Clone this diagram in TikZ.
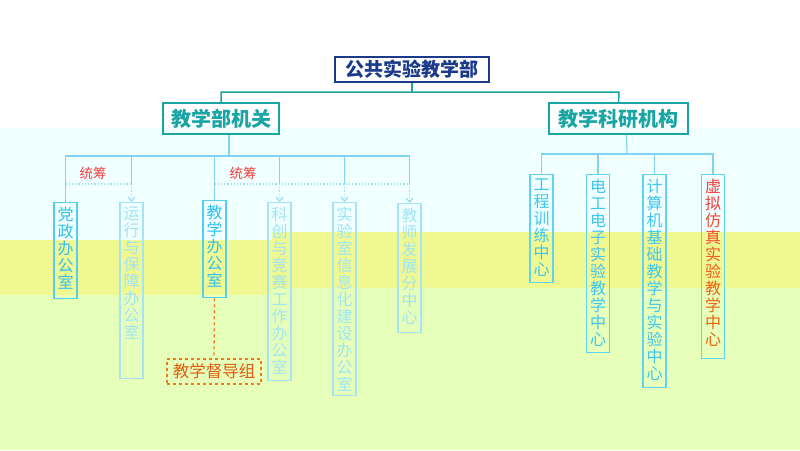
\documentclass[tikz,border=0pt]{standalone}
\usepackage{fontspec}
\setmainfont{Noto Sans CJK SC}
\usetikzlibrary{arrows.meta}
\definecolor{navy}{HTML}{1B3A8A}
\definecolor{tealc}{HTML}{1AA5A5}
\definecolor{busc}{HTML}{80D4F2}
\definecolor{dotc}{HTML}{9ADCF2}
\definecolor{strongtxt}{HTML}{2FC0F2}
\definecolor{strongbd}{HTML}{55CCF2}
\definecolor{paletxt}{HTML}{9FE4F5}
\definecolor{palebd}{HTML}{A5E4F5}
\definecolor{righttxt}{HTML}{3EC6F0}
\definecolor{rightbd}{HTML}{5ED4F2}
\definecolor{redc}{HTML}{F04040}
\definecolor{orangebd}{HTML}{F07818}
\definecolor{orangetxt}{HTML}{E25A10}
\definecolor{bgcyan}{HTML}{F0FFFF}
\definecolor{bgyellow}{HTML}{F0F892}
\definecolor{bggreen}{HTML}{E6FFBA}
\definecolor{xa}{HTML}{F03C3C}
\definecolor{xb}{HTML}{F04A2C}
\definecolor{xc}{HTML}{F05A1C}
\definecolor{xd}{HTML}{EC6414}
\tikzset{
  topbox/.style={draw=navy, line width=1.5pt, fill=white, text=navy,
    minimum width=154pt, minimum height=25pt, inner sep=0pt,
    font=\fontsize{19}{19}\selectfont\bfseries},
  lonebox/.style={draw=tealc, line width=1.5pt, text=tealc,
    minimum height=31pt, inner sep=0pt,
    font=\fontsize{20}{20}\selectfont\bfseries},
  tealline/.style={draw=tealc, line width=1.5pt},
  vbox/.style={line width=1.3pt, minimum width=23pt, inner sep=0pt, anchor=north},
  vtext/.style={anchor=north, align=center, inner xsep=0pt, inner ysep=5pt,
    font=\fontsize{16}{17}\selectfont},
  busline/.style={draw=busc, line width=1.2pt},
  dotline/.style={draw=dotc, line width=1.2pt, dotted},
  dotarrow/.style={draw=dotc, line width=1.2pt, dotted, -{Straight Barb[length=4pt,width=7pt]}},
  tclabel/.style={text=redc, font=\fontsize{13.5}{14}\selectfont},
  ddbox/.style={draw=orangebd, line width=1.3pt, dashed, text=orangetxt,
    minimum width=94pt, minimum height=25pt, inner sep=0pt,
    font=\fontsize{16.5}{17}\selectfont},
  ddline/.style={draw=orangebd, line width=1.3pt, dashed}
}
\begin{document}
\begin{tikzpicture}[x=1pt,y=-1pt]
\useasboundingbox (0,0) rectangle (800,450);
% background bands
\fill[white] (0,0) rectangle (800,128);
\fill[bgcyan] (0,128) rectangle (800,240);
\fill[bggreen] (0,240) rectangle (800,450);
\fill[bgyellow] (0,240) rectangle (272,295);
\fill[bgyellow] (272,232) rectangle (800,288);

% top level
\node[topbox] (top) at (412,69.5) {公共实验教学部};
\node[lonebox, minimum width=116pt] (ja) at (221,118.5) {教学部机关};
\node[lonebox, minimum width=139pt] (jk) at (618.5,118.5) {教学科研机构};
\coordinate (busA) at (221,92);
\coordinate (busB) at (619,92);
\draw[tealline] (top.south) -- (top.south |- busA);
\draw[tealline] (ja.north) -- (busA) -- (busB) -- (jk.north);

% left group boxes
\node[vbox, draw=strongbd, minimum height=96pt] (dz) at (65.5,202) {};
\node[vtext, text=strongtxt] (dzt) at (dz.north) {党\\政\\办\\公\\室};
\node[vbox, draw=palebd, minimum height=176pt] (yx) at (131.5,202) {};
\node[vtext, text=paletxt] (yxt) at (yx.north) {运\\行\\与\\保\\障\\办\\公\\室};
\node[vbox, draw=strongbd, minimum height=97pt] (jx) at (214.5,200) {};
\node[vtext, text=strongtxt] (jxt) at (jx.north) {教\\学\\办\\公\\室};
\node[vbox, draw=palebd, minimum height=178pt] (kc) at (279.5,202) {};
\node[vtext, text=paletxt] (kct) at (kc.north) {科\\创\\与\\竞\\赛\\工\\作\\办\\公\\室};
\node[vbox, draw=palebd, minimum height=193pt] (sy) at (344.5,202) {};
\node[vtext, text=paletxt] (syt) at (sy.north) {实\\验\\室\\信\\息\\化\\建\\设\\办\\公\\室};
\node[vbox, draw=palebd, minimum height=129pt] (js) at (409.5,203) {};
\node[vtext, text=paletxt] (jst) at (js.north) {教\\师\\发\\展\\分\\中\\心};

% left connectors
\coordinate (Lbus) at (229,156);
\coordinate (Ltc) at (229,184);
\draw[busline] ([xshift=8pt]ja.south) -- (Lbus);
\draw[busline] (dz.north) -- (dz.north |- Lbus) -- (js.north |- Lbus);
\draw[busline] (jx.north) -- (jx.north |- Lbus);
\draw[busline] (yx.north |- Lbus) -- (yx.north |- Ltc);
\draw[busline] (kc.north |- Lbus) -- (kc.north |- Ltc);
\draw[busline] (sy.north |- Lbus) -- (sy.north |- Ltc);
\draw[busline] (js.north |- Lbus) -- (js.north |- Ltc);
\draw[dotline] (dz.north |- Ltc) -- (yx.north |- Ltc);
\draw[dotline] (jx.north |- Ltc) -- (js.north |- Ltc);
\draw[dotarrow] (yx.north |- Ltc) -- (yx.north);
\draw[dotarrow] (kc.north |- Ltc) -- (kc.north);
\draw[dotarrow] (sy.north |- Ltc) -- (sy.north);
\draw[dotarrow] (js.north |- Ltc) -- (js.north);
\node[tclabel] (tc1) at (93,173) {统筹};
\node[tclabel] (tc2) at (243,173) {统筹};

% supervision group
\node[ddbox] (dd) at (214,371.5) {教学督导组};
\draw[ddline] (jx.south) -- (dd.north);

% right group boxes
\node[vbox, draw=rightbd, minimum height=108pt] (gc) at (541.5,174) {};
\node[vtext, text=righttxt] (gct) at (gc.north) {工\\程\\训\\练\\中\\心};
\node[vbox, draw=rightbd, minimum height=178pt] (dg) at (598,174) {};
\node[vtext, text=righttxt] (dgt) at (dg.north) {电\\工\\电\\子\\实\\验\\教\\学\\中\\心};
\node[vbox, draw=rightbd, minimum height=213pt] (jsj) at (654.5,174) {};
\node[vtext, text=righttxt] (jsjt) at (jsj.north) {计\\算\\机\\基\\础\\教\\学\\与\\实\\验\\中\\心};
\node[vbox, draw=rightbd, minimum height=184pt] (xn) at (713,174) {};
\node[vtext] (xnt) at (xn.north) {\textcolor{xa}{虚}\\\textcolor{xa}{拟}\\\textcolor{xb}{仿}\\\textcolor{xb}{真}\\\textcolor{xc}{实}\\\textcolor{xc}{验}\\\textcolor{xd}{教}\\\textcolor{xd}{学}\\\textcolor{xd}{中}\\\textcolor{xd}{心}};

% right connectors
\coordinate (Rbus) at (627,154);
\draw[busline] ([xshift=8pt]jk.south) -- (Rbus);
\draw[busline] (gc.north) -- (gc.north |- Rbus) -- (xn.north |- Rbus) -- (xn.north);
\draw[busline] (dg.north) -- (dg.north |- Rbus);
\draw[busline] (jsj.north) -- (jsj.north |- Rbus);
\end{tikzpicture}
\end{document}
